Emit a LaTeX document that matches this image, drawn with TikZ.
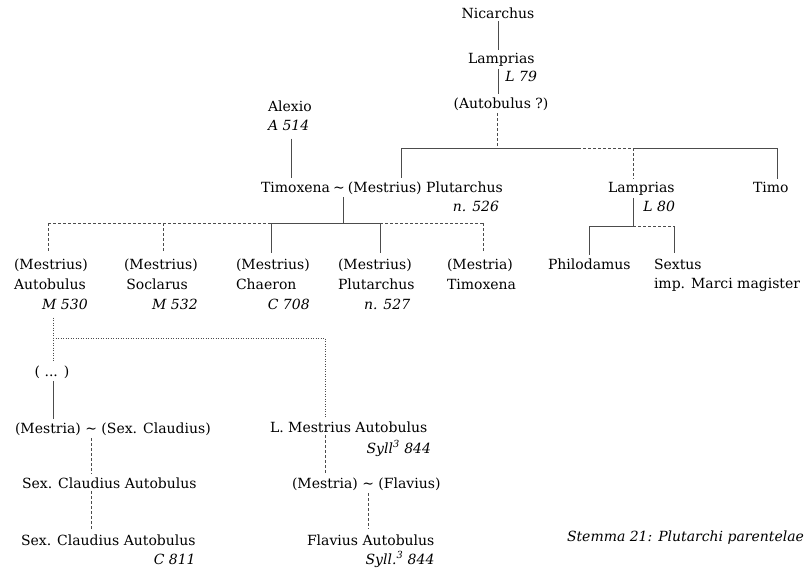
\documentclass[tikz,border=0pt]{standalone}
\usepackage{fontspec}
\setmainfont{DejaVu Serif}
\newcommand\tf{\fontsize{14}{19}\selectfont}
\begin{document}
\begin{tikzpicture}[x=1pt,y=-1pt,
  nm/.style={inner sep=0pt,outer sep=3pt,anchor=base west,xshift=-3pt,font=\tf},
  ct/.style={inner sep=0pt,outer sep=3pt,anchor=base,font=\tf},
  rf/.style={inner sep=0pt,outer sep=3pt,anchor=base east,xshift=3pt,font=\tf\itshape},
  ln/.style={line width=0.6pt,draw=black!70},
  dl/.style={ln,dash pattern=on 3pt off 2pt},
  dt/.style={ln,dash pattern=on 1pt off 1.5pt}]
\useasboundingbox (0,0) rectangle (810,576);
% ---- top ----
\node[ct] (nic) at (498,18) {Nicarchus};
\node[nm] (lamp1) at (468,63) {Lamprias};
\node[rf] (l79) at (537,81) {L 79};
\node[ct] (autq) at (501,108) {(Autobulus ?)};
\node[nm] (alex) at (268,111) {\begin{tabular}[t]{@{}l@{}}Alexio\\\itshape A 514\end{tabular}};
\node[nm] (couple) at (261,192) {Timoxena\hspace{0.22em}\textasciitilde\hspace{0.22em}(Mestrius) Plutarchus};
\node[rf] (n526) at (499,211) {n. 526};
\node[nm] (lamp2) at (608,192) {Lamprias};
\node[rf] (l80) at (675,211) {L 80};
\node[nm] (timo) at (753,192) {Timo};
\node[nm] (philo) at (548,269) {Philodamus};
\node[nm] (sextus) at (654,269) {\begin{tabular}[t]{@{}l@{}}Sextus\\imp. Marci magister\end{tabular}};
% ---- children ----
\node[nm] (c1) at (14,269) {\begin{tabular}[t]{@{}l@{}}(Mestrius)\\[1pt]Autobulus\\[1pt]\multicolumn{1}{@{}r@{}}{\itshape M 530}\end{tabular}};
\node[nm] (c2) at (124,269) {\begin{tabular}[t]{@{}l@{}}(Mestrius)\\[1pt]\,Soclarus\\[1pt]\multicolumn{1}{@{}r@{}}{\itshape M 532\ }\end{tabular}};
\node[nm] (c3) at (236,269) {\begin{tabular}[t]{@{}l@{}}(Mestrius)\\[1pt]Chaeron\\[1pt]\multicolumn{1}{@{}r@{}}{\itshape C 708}\end{tabular}};
\node[nm] (c4) at (338,269) {\begin{tabular}[t]{@{}l@{}}(Mestrius)\\[1pt]Plutarchus\\[1pt]\multicolumn{1}{@{}r@{}}{\itshape n. 527\ \ }\end{tabular}};
\node[nm] (c5) at (447,269) {\begin{tabular}[t]{@{}l@{}}(Mestria)\\[1pt]Timoxena\end{tabular}};
% ---- lower ----
\node[ct] (dots) at (52,376) {( ... )};
\node[nm] (mc) at (15,433) {(Mestria) \textasciitilde{} (Sex. Claudius)};
\node[nm] (sca1) at (22,488) {Sex. Claudius Autobulus};
\node[nm] (sca2) at (21,545) {\begin{tabular}[t]{@{}l@{}}Sex. Claudius Autobulus\\\multicolumn{1}{@{}r@{}}{\itshape C 811}\end{tabular}};
\node[nm] (lma) at (270,432) {L. Mestrius Autobulus};
\node[rf] (syll1) at (431,453) {Syll\textsuperscript{3} 844};
\node[nm] (mf) at (292,488) {(Mestria) \textasciitilde{} (Flavius)};
\node[nm] (fa) at (307,545) {\begin{tabular}[t]{@{}l@{}}Flavius Autobulus\\\multicolumn{1}{@{}r@{}}{\itshape Syll.\textsuperscript{3} 844\ }\end{tabular}};
\node[nm,font=\tf\itshape] (cap) at (567,541) {Stemma 21: Plutarchi parentelae};
% ---- junctions ----
\coordinate (jA) at (497,148);
\coordinate (jPl) at (401,148);
\coordinate (ds) at (578,148);
\coordinate (jLa) at (633,148);
\coordinate (jTi) at (777,148);
\coordinate (jAl) at (291,148);
\coordinate (jC) at (343,223);
\coordinate (b1) at (48,223);
\coordinate (b2) at (163,223);
\coordinate (b3) at (271,223);
\coordinate (b4) at (380,223);
\coordinate (b5) at (483,223);
\coordinate (jL80) at (633,226);
\coordinate (jPh) at (589,226);
\coordinate (jSx) at (674,226);
\coordinate (d1) at (53,338);
\coordinate (d2) at (325,338);
\coordinate (xs) at (91,450);
\coordinate (xf) at (368,500);
% ---- connectors ----
\draw[ln] (nic.south) -- (nic.south |- lamp1.north);
\draw[ln] (nic.south |- lamp1.south) -- (nic.south |- autq.north);
\draw[dl] (autq.south -| jA) -- (jA);
\draw[ln] (jPl) -- (ds);
\draw[dl] (ds) -- (jLa);
\draw[ln] (jLa) -- (jTi);
\draw[ln] (jPl) -- (jPl |- couple.north);
\draw[dl] (jLa) -- (jLa |- lamp2.north);
\draw[ln] (jTi) -- (jTi |- timo.north);
\draw[ln] (alex.south -| jAl) -- (couple.north -| jAl);
\draw[ln] (couple.south -| jC) -- (jC);
\draw[dl] (b1) -- (b3);
\draw[ln] (b3) -- (b4);
\draw[dl] (b4) -- (b5);
\draw[dl] (b1) -- (b1 |- c1.north);
\draw[dl] (b2) -- (b2 |- c2.north);
\draw[ln] (b3) -- (b3 |- c3.north);
\draw[ln] (b4) -- (b4 |- c4.north);
\draw[dl] (b5) -- (b5 |- c5.north);
\draw[ln] (lamp2.south -| jL80) -- (jL80) -- (jPh);
\draw[dl] (jL80) -- (jSx);
\draw[ln] (jPh) -- (jPh |- philo.north);
\draw[ln] (jSx) -- (jSx |- sextus.north);
\draw[dt] (c1.south -| d1) -- (d1) -- (d1 |- dots.north);
\draw[dt] (d1) -- (d2) -- (d2 |- lma.north);
\draw[ln] (dots.south -| d1) -- (mc.north -| d1);
\draw[dl] (mc.south -| xs) -- (sca1.north -| xs);
\draw[dl] (sca1.south -| xs) -- (sca2.north -| xs);
\draw[dl] (lma.south -| d2) -- (mf.north -| d2);
\draw[dl] (mf.south -| xf) -- (fa.north -| xf);
\end{tikzpicture}
\end{document}
